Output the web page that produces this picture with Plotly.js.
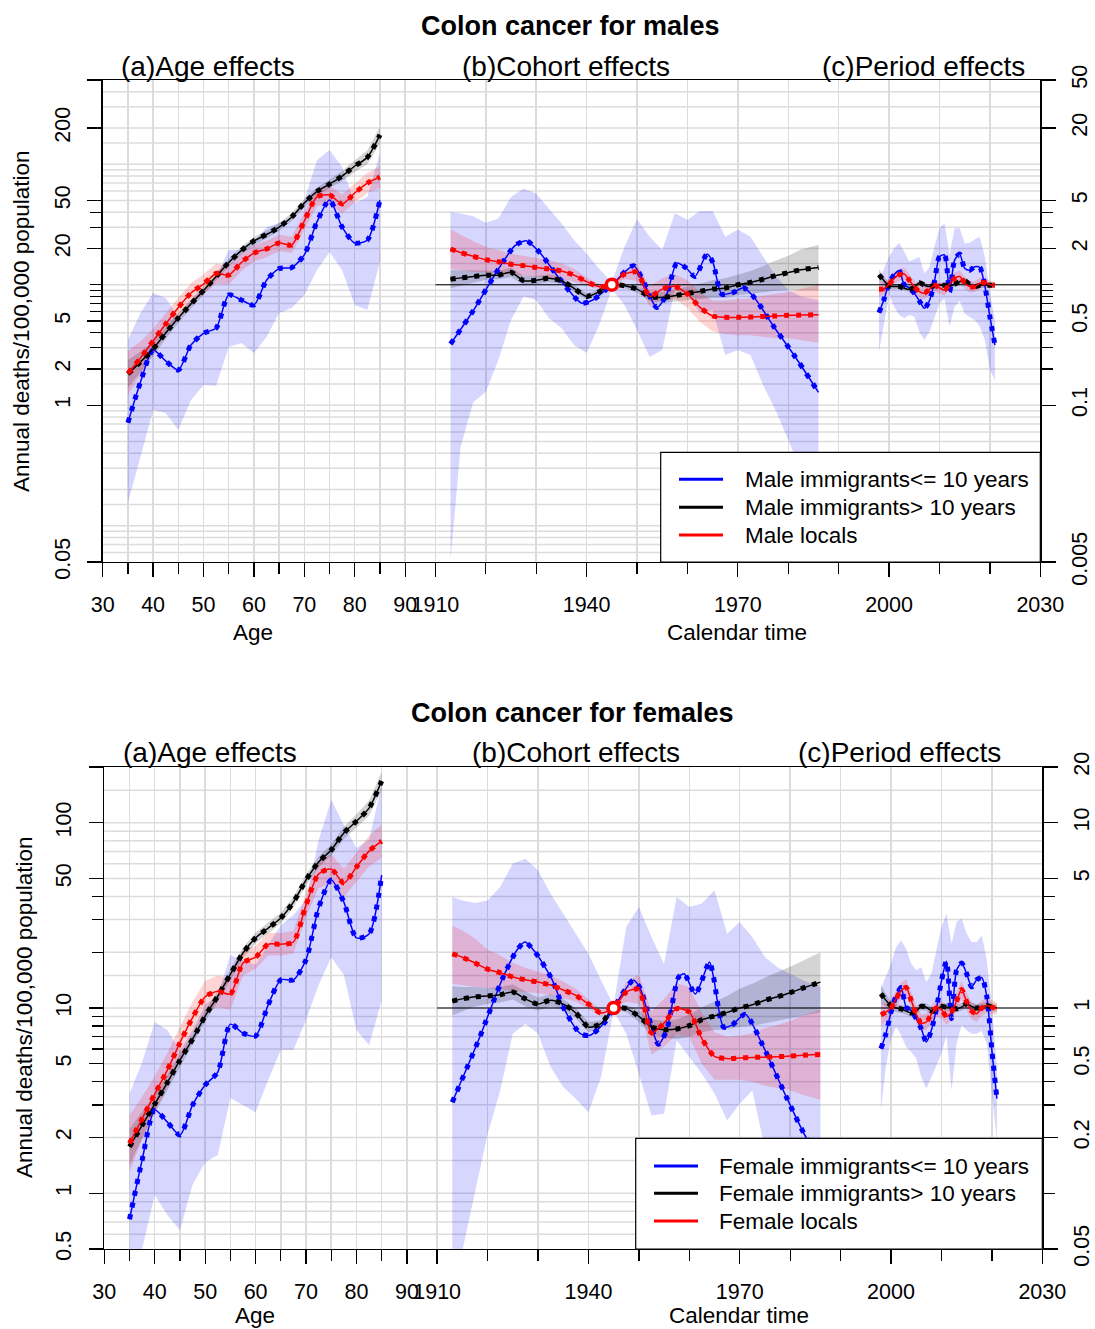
<!DOCTYPE html>
<html><head><meta charset="utf-8">
<script src="https://cdn.plot.ly/plotly-3.0.1.min.js"></script>
<style>html,body{margin:0;padding:0;background:#fff}#chart{width:1095px;height:1329px}</style>
</head><body><div id="chart"></div>
<script>
// ---------------- DATA ----------------
const groupsMale = ['Male immigrants<= 10 years','Male immigrants> 10 years','Male locals'];
const groupsFemale = ['Female immigrants<= 10 years','Female immigrants> 10 years','Female locals'];

const ages = [35,37.5,40,42.5,45,47.5,50,52.5,55,57.5,60,62.5,65,67.5,70,72.5,75,77.5,80,82.5,85];
const cohYears = [1913,1915,1917.5,1920,1922.5,1925,1927.5,1930,1932.5,1935,1937.5,1940,1942.5,1945,1947.5,1950,1952.5,1955,1957.5,1960,1962.5,1965,1967.5,1970,1972.5,1975,1977.5,1980,1982.5,1986];
const perYears = [1998,1999,2000,2001,2002,2003,2004,2005,2006,2007,2008,2009,2010,2011,2012,2013,2014,2015,2016,2017,2018,2019,2020,2021];
const refCohort = 1945;

// ---- males: age effects (rate per 100,000) ----
const mAgeBlue   = [0.716,1.56,2.87,2.33,1.96,3.16,3.95,4.37,8.22,7.47,6.79,10.9,13.6,13.9,17.7,33.2,50.5,30.1,22.2,23.5,50.5];
const mAgeBlueLo = [0.155,0.372,0.912,0.863,0.622,1.10,1.47,1.45,3.04,3.28,2.71,3.68,5.82,6.41,8.22,13.2,18.7,13.2,6.79,6.17,15.5];
const mAgeBlueHi = [3.47,5.82,8.53,7.76,5.40,7.47,9.04,11.6,19.4,19.4,22.6,30.1,32.5,36.5,50.5,108,131,94.8,47.6,53.5,124];
const mAgeBlack   = [1.82,2.29,2.93,3.98,5.30,6.92,8.96,11.7,15.3,19.2,23.1,26.1,30.1,36.5,47.7,59.4,68.5,79.8,96.7,114,175];
const mAgeBlackLo = [1.40,1.88,2.55,3.55,4.82,6.35,8.30,10.8,14.2,17.8,21.4,24.2,27.9,33.8,44.2,55.0,62.8,72.5,86.3,100,148];
const mAgeBlackHi = [2.37,2.79,3.37,4.46,5.83,7.54,9.68,12.6,16.5,20.7,24.9,28.2,32.5,39.4,51.5,64.2,74.7,87.8,108,130,206];
const mAgeRed   = [1.84,2.47,3.41,4.72,6.47,8.53,10.1,12.4,12.0,15.3,18.3,19.8,22.2,21.4,33.8,53.5,55.6,46.8,57.7,69.8,78.3];
const mAgeRedLo = [1.21,1.80,2.71,3.85,5.35,7.05,8.35,10.2,10.0,13.0,15.6,16.9,19.0,18.3,28.9,45.0,46.7,39.0,48.1,57.7,63.7];
const mAgeRedHi = [2.80,3.39,4.29,5.79,7.83,10.3,12.2,15.0,14.4,18.1,21.4,23.2,26.0,25.0,39.5,63.6,66.2,56.2,69.2,84.5,96.3];

// ---- males: cohort effects (rate ratio) ----
const mCohBlueYears = [1913.0,1917.5,1922.5,1925.8,1928.0,1930.7,1934.7,1939.0,1941.3,1945.0,1949.3,1950.9,1953.9,1955.9,1957.9,1959.8,1961.5,1963.9,1965.1,1966.8,1969.1,1971.1,1973.4,1977.0,1981.0,1986.0];
const mCohBlue = [0.322,0.608,1.35,2.11,2.32,1.85,1.11,0.705,0.751,1.0,1.44,1.15,0.648,0.837,1.51,1.37,1.17,1.80,1.51,0.837,0.864,0.944,0.77,0.457,0.266,0.128];
const mCohBlueLo = [0.0052,0.045,0.106,0.129,0.237,0.51,0.80,0.746,0.53,0.438,0.316,0.271,0.463,0.92,0.68,0.42,0.251,0.287,0.91,0.838,0.582,0.617,0.261,0.287,0.261,0.147,0.091,0.051,0.029,0.0135];
const mCohBlueHi = [4.0,3.9,3.7,3.27,3.55,5.35,6.3,5.7,4.3,3.23,2.35,1.82,1.35,1.05,2.06,3.5,2.5,1.94,3.92,3.44,4.1,4.1,2.5,2.87,2.5,1.71,1.18,0.91,0.80,0.746];
const mCohBlack   = [1.11,1.14,1.17,1.20,1.20,1.27,1.08,1.09,1.13,1.08,0.932,0.80,0.875,1.0,0.98,0.92,0.80,0.785,0.811,0.847,0.88,0.92,0.938,1.0,1.046,1.11,1.19,1.26,1.33,1.39];
const mCohBlackLo = [0.93,0.98,1.04,1.10,1.11,1.16,0.99,1.01,1.05,1.01,0.87,0.755,0.845,0.99,0.94,0.86,0.73,0.71,0.72,0.74,0.76,0.78,0.78,0.82,0.84,0.86,0.89,0.91,0.90,0.90];
const mCohBlackHi = [1.32,1.32,1.31,1.31,1.30,1.39,1.18,1.18,1.22,1.16,1.0,0.85,0.905,1.01,1.02,0.98,0.88,0.87,0.91,0.97,1.02,1.09,1.13,1.22,1.30,1.43,1.59,1.74,1.96,2.15];
const mCohRed   = [1.98,1.85,1.72,1.61,1.55,1.48,1.44,1.39,1.35,1.30,1.20,1.06,0.963,1.0,1.22,1.27,0.80,0.92,0.968,0.837,0.648,0.55,0.536,0.536,0.539,0.546,0.55,0.557,0.56,0.564];
const mCohRedLo = [1.35,1.32,1.28,1.26,1.24,1.21,1.19,1.16,1.14,1.13,1.06,0.98,0.92,0.99,1.11,1.08,0.66,0.75,0.76,0.64,0.49,0.41,0.39,0.38,0.38,0.37,0.36,0.36,0.35,0.33];
const mCohRedHi = [2.90,2.60,2.31,2.06,1.94,1.81,1.74,1.67,1.60,1.50,1.36,1.15,1.01,1.01,1.34,1.49,0.97,1.13,1.23,1.09,0.86,0.74,0.74,0.76,0.77,0.81,0.84,0.87,0.92,1.0];

// ---- males: period effects (rate ratio) ----
const mPerBlue   = [0.586,0.757,1.03,1.21,1.31,1.0,0.94,0.85,0.736,0.637,0.736,1.06,1.71,1.77,0.875,1.60,1.80,1.37,1.32,1.41,1.39,0.975,0.543,0.316];
const mPerBlueLo = [0.278,0.479,0.82,0.656,0.56,0.526,0.56,0.543,0.407,0.348,0.407,0.543,0.70,0.77,0.449,0.656,0.736,0.578,0.536,0.51,0.449,0.348,0.196,0.162];
const mPerBlueHi = [1.09,1.37,1.71,2.00,2.23,1.88,1.56,1.63,1.71,1.24,1.39,2.07,2.94,3.24,1.77,2.94,2.94,2.20,2.23,2.38,2.50,1.71,0.85,0.51];
const mPerBlack   = [1.21,1.08,0.98,0.965,0.965,0.935,0.915,0.95,1.04,0.99,0.965,0.98,0.99,0.99,0.98,1.01,1.06,1.08,1.01,0.965,0.99,1.0,0.99,0.99];
const mPerBlackLo = [1.08,1.00,0.92,0.915,0.92,0.89,0.87,0.905,0.99,0.945,0.92,0.935,0.945,0.945,0.935,0.965,1.01,1.03,0.965,0.92,0.945,0.955,0.945,0.945];
const mPerBlackHi = [1.36,1.17,1.04,1.02,1.01,0.98,0.96,1.0,1.09,1.04,1.01,1.03,1.04,1.04,1.03,1.06,1.11,1.13,1.06,1.01,1.04,1.05,1.04,1.04];
const mPerRed   = [0.916,0.927,1.01,1.13,1.21,1.23,1.09,0.964,0.875,0.85,0.916,0.99,0.94,0.904,1.01,1.13,1.17,1.04,0.964,0.964,1.03,1.04,1.0,0.99];
const mPerRedLo = [0.80,0.83,0.90,1.01,1.08,1.10,0.97,0.86,0.78,0.76,0.82,0.88,0.84,0.81,0.90,1.01,1.05,0.93,0.86,0.87,0.93,0.95,0.93,0.93];
const mPerRedHi = [1.05,1.04,1.13,1.27,1.36,1.38,1.22,1.08,0.98,0.95,1.02,1.11,1.05,1.01,1.13,1.27,1.31,1.16,1.08,1.07,1.14,1.14,1.08,1.06];

// ---- females: age effects ----
const fAgeBlue   = [0.723,1.51,2.81,2.42,2.06,2.99,3.84,4.51,8.18,7.32,7.06,10.4,14.2,14.2,18.2,34.7,49.1,37.3,23.9,25.1,52.2];
const fAgeBlueLo = [0.4,0.5,0.977,0.762,0.632,1.11,1.47,1.61,3.27,2.99,2.74,4.08,5.93,5.93,8.61,13.3,18.8,15.1,7.6,6.3,11.0];
const fAgeBlueHi = [3.46,5.1,8.4,7.6,5.9,7.6,10.4,11.7,19.3,18.2,17.1,21.9,28.0,31.8,38.3,80.7,133,97.2,73.1,80.7,160];
const fAgeBlack   = [1.78,2.33,3.03,3.96,5.23,6.79,9.05,11.6,15.2,19.8,23.9,27.0,30.6,37.3,49.1,61.4,71.3,88.1,102,120,168];
const fAgeBlackLo = [1.42,1.98,2.70,3.60,4.85,6.35,8.46,10.8,14.2,18.5,22.3,25.2,28.6,34.9,45.9,57.4,66.6,81.6,94,109,150];
const fAgeBlackHi = [2.23,2.74,3.39,4.36,5.64,7.26,9.68,12.4,16.3,21.2,25.6,28.9,32.7,39.9,52.5,65.7,76.3,95.1,111,132,188];
const fAgeRed   = [1.86,2.53,3.43,4.62,6.49,8.87,11.5,12.3,11.9,17.5,18.8,22.1,22.1,22.7,36.0,52.9,56.2,47.3,57.7,70.3,79.6];
const fAgeRedLo = [1.31,1.93,2.74,3.74,5.32,7.27,9.43,10.1,9.75,15.0,16.3,19.2,19.2,19.7,31.0,44.5,46.8,39.7,48.1,58.1,64.7];
const fAgeRedHi = [2.64,3.32,4.29,5.71,7.92,10.8,14.0,15.0,14.5,20.4,21.6,25.4,25.4,26.1,41.8,62.9,67.4,56.3,69.2,85.1,97.9];

// ---- females: cohort effects ----
const fCohBlueYears = [1913.0,1918.2,1923.1,1925.8,1927.4,1929.4,1932.7,1935.0,1938.4,1940.3,1943.3,1945.0,1948.9,1950.3,1952.9,1953.9,1955.5,1957.9,1959.0,1961.2,1964.0,1964.8,1966.8,1968.4,1971.1,1974.4,1979.4,1983.3,1986.0];
const fCohBlue = [0.31,0.669,1.47,2.05,2.27,2.01,1.44,1.01,0.727,0.712,0.84,1.0,1.41,1.27,0.727,0.637,0.757,1.47,1.53,1.19,1.77,1.47,0.789,0.806,0.924,0.642,0.324,0.197,0.157];
const fCohBlueLo = [0.037,0.049,0.0998,0.208,0.359,0.727,0.823,0.727,0.48,0.374,0.324,0.274,0.424,0.963,0.727,0.442,0.263,0.269,0.669,0.544,0.442,0.345,0.247,0.304,0.359,0.177,0.084,0.045,0.030,0.024];
const fCohBlueHi = [3.98,3.81,3.69,3.81,4.50,6.02,6.40,5.54,4.14,3.23,2.52,1.96,1.41,1.03,2.74,3.51,2.42,1.73,3.98,3.51,3.66,4.32,2.52,2.91,2.42,1.88,1.66,1.53,1.41,1.30];
const fCohBlack   = [1.09,1.12,1.15,1.16,1.18,1.22,1.12,1.05,1.10,1.05,0.94,0.79,0.823,1.0,0.992,0.902,0.79,0.764,0.77,0.803,0.865,0.905,0.947,1.0,1.04,1.10,1.15,1.21,1.28,1.38];
const fCohBlackLo = [0.91,0.96,1.02,1.05,1.07,1.11,1.02,0.97,1.02,0.98,0.88,0.74,0.79,0.99,0.95,0.84,0.72,0.69,0.68,0.70,0.74,0.76,0.77,0.79,0.80,0.83,0.85,0.88,0.91,0.95];
const fCohBlackHi = [1.31,1.30,1.30,1.28,1.30,1.34,1.23,1.14,1.19,1.12,1.00,0.84,0.86,1.01,1.04,0.97,0.87,0.85,0.87,0.92,1.01,1.08,1.16,1.27,1.35,1.46,1.56,1.67,1.80,2.0];
const fCohRed   = [1.96,1.88,1.75,1.62,1.55,1.47,1.42,1.38,1.33,1.25,1.17,1.05,0.94,1.0,1.22,1.26,0.733,0.83,0.992,0.951,0.683,0.548,0.533,0.537,0.541,0.543,0.546,0.550,0.555,0.562];
const fCohRedLo = [1.35,1.33,1.30,1.28,1.27,1.25,1.22,1.20,1.18,1.13,1.08,0.99,0.90,0.99,1.08,1.05,0.56,0.62,0.72,0.70,0.50,0.41,0.41,0.41,0.40,0.38,0.37,0.36,0.34,0.32];
const fCohRedHi = [2.79,2.62,2.37,2.07,1.92,1.75,1.65,1.58,1.50,1.39,1.27,1.11,0.98,1.01,1.38,1.52,0.96,1.12,1.36,1.30,0.94,0.74,0.70,0.71,0.73,0.78,0.81,0.85,0.91,0.98];

// ---- females: period effects ----
const fPerBlue   = [0.603,0.727,0.951,1.16,1.29,1.01,0.971,0.876,0.773,0.655,0.758,0.992,1.40,1.79,0.876,1.60,1.75,1.53,1.30,1.42,1.46,1.15,0.591,0.324];
const fPerBlueLo = [0.28,0.49,0.683,0.79,0.712,0.616,0.579,0.533,0.424,0.367,0.424,0.49,0.567,0.712,0.359,0.642,0.806,0.758,0.727,0.727,0.751,0.642,0.345,0.193];
const fPerBlueHi = [1.27,1.47,1.74,2.13,2.32,2.09,1.74,1.60,1.66,1.38,1.53,2.05,2.74,3.23,2.22,2.91,3.04,2.52,2.27,2.27,2.47,1.81,1.01,0.48];
const fPerBlack   = [1.195,1.10,1.03,1.0,0.988,0.963,0.94,0.963,1.02,1.01,0.963,0.98,1.02,1.01,1.0,0.99,1.01,1.055,1.02,1.0,1.01,1.03,1.01,1.0];
const fPerBlackLo = [1.07,1.02,0.97,0.95,0.94,0.92,0.90,0.92,0.975,0.965,0.92,0.94,0.975,0.965,0.955,0.945,0.965,1.01,0.975,0.955,0.965,0.98,0.96,0.95];
const fPerBlackHi = [1.33,1.19,1.09,1.05,1.04,1.01,0.98,1.01,1.07,1.06,1.01,1.02,1.07,1.06,1.05,1.04,1.06,1.10,1.07,1.05,1.06,1.08,1.06,1.05];
const fPerRed   = [0.92,0.951,1.0,1.12,1.235,1.29,1.10,0.924,0.83,0.84,0.924,1.0,0.98,0.90,0.951,1.09,1.26,1.08,0.963,0.932,1.0,1.03,1.01,0.99];
const fPerRedLo = [0.80,0.85,0.90,1.01,1.11,1.16,0.99,0.83,0.75,0.76,0.83,0.90,0.88,0.81,0.86,0.98,1.13,0.97,0.87,0.84,0.91,0.94,0.93,0.92];
const fPerRedHi = [1.06,1.06,1.11,1.24,1.37,1.43,1.22,1.03,0.92,0.93,1.03,1.11,1.09,1.0,1.05,1.21,1.40,1.20,1.07,1.03,1.10,1.13,1.10,1.07];

// ---- axis ticks ----
const ageTicks = [30,40,50,60,70,80,90];
const ageMinorTicks = [35,45,55,65,75,85];
const calTicks = [1910,1940,1970,2000,2030];
const calMinorTicks = [1920,1930,1950,1960,1980,1990,2010,2020];
const mLeftTicks = [0.05,1,2,5,20,50,200,500];
const mLeftText  = ['0.05','1','2','5','20','50','200',''];
const mLeftMinor = [3,4,6,7,8,9,10,30,40];
const mRightTicks = [0.005,0.1,0.5,2,5,20,50];
const mRightText  = ['0.005','0.1','0.5','2','5','20','50'];
const mRightMinor = [0.2,0.3,0.4,0.6,0.7,0.8,0.9,1,3,4];
const fLeftTicks = [0.5,1,2,5,10,50,100,200];
const fLeftText  = ['0.5','1','2','5','10','50','100',''];
const fLeftMinor = [3,4,6,7,8,9,20,30,40];
const fRightTicks = [0.05,0.2,0.5,1,5,10,20];
const fRightText  = ['0.05','0.2','0.5','1','5','10','20'];
const fRightMinor = [0.1,0.3,0.4,0.6,0.7,0.8,0.9,2,3,4];
const gridMantissa = [1,1.5,2,3,4,5,6,7,8,9];

// ---------------- BUILD ----------------
const W = 1095, H = 1329;
const FONT = 'Liberation Sans, Arial, Helvetica, sans-serif';
const GAP = 6;
const cal = y => y - 1910 + 90 + GAP;
const XR = [30, cal(2030)];
const COL = {blue:'#0000ff', black:'#000000', red:'#ff0000'};
const FILL = {blue:'rgba(0,0,255,0.16)', black:'rgba(0,0,0,0.17)', red:'rgba(255,0,0,0.17)'};
const GRID = '#dcdcdc';

function band(xs, lo, hi, fill, xa, ya){
  return {type:'scatter', mode:'lines', x: xs.concat(xs.slice().reverse()), y: hi.concat(lo.slice().reverse()),
    fill:'toself', fillcolor: fill, line:{width:0, color:'rgba(0,0,0,0)'}, xaxis:xa, yaxis:ya, hoverinfo:'skip', showlegend:false};
}
function curve(xs, ys, color, xa, ya){
  return [
    {type:'scatter', mode:'lines', x:xs, y:ys, line:{color:color, width:1.5, shape:'spline', smoothing:0.7}, xaxis:xa, yaxis:ya, showlegend:false},
    {type:'scatter', mode:'lines', x:xs, y:ys, line:{color:color, width:5, shape:'spline', smoothing:0.7, dash:'5px,7px'}, xaxis:xa, yaxis:ya, showlegend:false}
  ];
}

function panel(D, xa, yL, yR){
  const t = [];
  const coh = cohYears.map(cal), per = perYears.map(cal), cohB = D.cohBlueYears.map(cal);
  t.push(band(ages, D.ageBlueLo, D.ageBlueHi, FILL.blue, xa, yL));
  t.push(band(ages, D.ageBlackLo, D.ageBlackHi, FILL.black, xa, yL));
  t.push(band(ages, D.ageRedLo, D.ageRedHi, FILL.red, xa, yL));
  t.push(band(coh, D.cohBlueLo, D.cohBlueHi, FILL.blue, xa, yR));
  t.push(band(coh, D.cohBlackLo, D.cohBlackHi, FILL.black, xa, yR));
  t.push(band(coh, D.cohRedLo, D.cohRedHi, FILL.red, xa, yR));
  t.push(band(per, D.perBlueLo, D.perBlueHi, FILL.blue, xa, yR));
  t.push(band(per, D.perBlackLo, D.perBlackHi, FILL.black, xa, yR));
  t.push(band(per, D.perRedLo, D.perRedHi, FILL.red, xa, yR));
  t.push({type:'scatter', mode:'lines', x:[cal(1910), cal(2030)], y:[1,1], line:{color:'#000', width:1.2}, xaxis:xa, yaxis:yR, showlegend:false});
  t.push(...curve(ages, D.ageBlue, COL.blue, xa, yL));
  t.push(...curve(ages, D.ageBlack, COL.black, xa, yL));
  t.push(...curve(ages, D.ageRed, COL.red, xa, yL));
  t.push(...curve(cohB, D.cohBlue, COL.blue, xa, yR));
  t.push(...curve(coh, D.cohBlack, COL.black, xa, yR));
  t.push(...curve(coh, D.cohRed, COL.red, xa, yR));
  t.push(...curve(per, D.perBlue, COL.blue, xa, yR));
  t.push(...curve(per, D.perBlack, COL.black, xa, yR));
  t.push(...curve(per, D.perRed, COL.red, xa, yR));
  t.push({type:'scatter', mode:'markers', x:[cal(refCohort)], y:[1], marker:{symbol:'circle', size:11, color:'#fff', line:{color:COL.red, width:3.5}}, xaxis:xa, yaxis:yR, showlegend:false});
  return t;
}

const male = {ageBlue:mAgeBlue, ageBlueLo:mAgeBlueLo, ageBlueHi:mAgeBlueHi, ageBlack:mAgeBlack, ageBlackLo:mAgeBlackLo, ageBlackHi:mAgeBlackHi,
  ageRed:mAgeRed, ageRedLo:mAgeRedLo, ageRedHi:mAgeRedHi, cohBlueYears:mCohBlueYears, cohBlue:mCohBlue, cohBlueLo:mCohBlueLo, cohBlueHi:mCohBlueHi,
  cohBlack:mCohBlack, cohBlackLo:mCohBlackLo, cohBlackHi:mCohBlackHi, cohRed:mCohRed, cohRedLo:mCohRedLo, cohRedHi:mCohRedHi,
  perBlue:mPerBlue, perBlueLo:mPerBlueLo, perBlueHi:mPerBlueHi, perBlack:mPerBlack, perBlackLo:mPerBlackLo, perBlackHi:mPerBlackHi,
  perRed:mPerRed, perRedLo:mPerRedLo, perRedHi:mPerRedHi};
const female = {ageBlue:fAgeBlue, ageBlueLo:fAgeBlueLo, ageBlueHi:fAgeBlueHi, ageBlack:fAgeBlack, ageBlackLo:fAgeBlackLo, ageBlackHi:fAgeBlackHi,
  ageRed:fAgeRed, ageRedLo:fAgeRedLo, ageRedHi:fAgeRedHi, cohBlueYears:fCohBlueYears, cohBlue:fCohBlue, cohBlueLo:fCohBlueLo, cohBlueHi:fCohBlueHi,
  cohBlack:fCohBlack, cohBlackLo:fCohBlackLo, cohBlackHi:fCohBlackHi, cohRed:fCohRed, cohRedLo:fCohRedLo, cohRedHi:fCohRedHi,
  perBlue:fPerBlue, perBlueLo:fPerBlueLo, perBlueHi:fPerBlueHi, perBlack:fPerBlack, perBlackLo:fPerBlackLo, perBlackHi:fPerBlackHi,
  perRed:fPerRed, perRedLo:fPerRedLo, perRedHi:fPerRedHi};

const traces = [].concat(panel(male, 'x', 'y', 'y3'), panel(female, 'x2', 'y2', 'y4'));

// ---- layout ----
const TICKFONT = {family:FONT, size:21.5, color:'#000'};
const xMajor = ageTicks.concat(calTicks.map(cal));
const xMajorText = ageTicks.map(String).concat(calTicks.map(String));
const xMinor = ageMinorTicks.concat(calMinorTicks.map(cal));
function gridVals(lo, hi){
  const v = [];
  for (let k = -3; k <= 3; k++) gridMantissa.forEach(m => { const g = m * Math.pow(10, k); if (g > lo*1.001 && g < hi*0.999) v.push(g); });
  return v;
}
function xAx(l, r, anchor){
  return {domain:[l/W, r/W], anchor:anchor, range:XR, showline:true, mirror:true, linecolor:'#000', linewidth:1.3, zeroline:false,
    ticks:'outside', ticklen:14, tickwidth:1.3, tickcolor:'#000', tickmode:'array', tickvals:xMajor, ticktext:xMajorText,
    tickangle:0, tickfont:TICKFONT, ticklabelstandoff:9, showgrid:true, gridcolor:GRID, gridwidth:1.5,
    minor:{tickmode:'array', tickvals:xMinor, ticks:'outside', ticklen:11, tickwidth:1.3, tickcolor:'#000', showgrid:true, gridcolor:GRID, gridwidth:1.5}};
}
function yAx(o){
  return Object.assign({type:'log', showline:true, linecolor:'#000', linewidth:1.3, zeroline:false, showgrid:false,
    ticks:'outside', ticklen:14, tickwidth:1.3, tickcolor:'#000', tickmode:'array', tickfont:TICKFONT, tickangle:-90, ticklabelstandoff:9}, o);
}
function minorY(vals){ return {tickmode:'array', tickvals:vals, ticks:'outside', ticklen:11, tickwidth:1.3, tickcolor:'#000', showgrid:false}; }

const topY = [1 - 562/H, 1 - 80/H], botY = [1 - 1249/H, 1 - 767/H];

const P = (x, y) => ({x: x/W, y: 1 - y/H});
function ann(text, x, y, o){
  const p = P(x, y);
  return Object.assign({text:text, x:p.x, y:p.y, xref:'paper', yref:'paper', showarrow:false, xanchor:'center', yanchor:'middle',
    font:{family:FONT, size:22.5, color:'#000'}}, o || {});
}
const annotations = [
  ann('<b>Colon cancer for males</b>', 570, 26, {font:{family:FONT, size:27, color:'#000'}}),
  ann('(a)Age effects', 208, 66, {font:{family:FONT, size:28, color:'#000'}}),
  ann('(b)Cohort effects', 566, 66, {font:{family:FONT, size:28, color:'#000'}}),
  ann('(c)Period effects', 923, 66, {font:{family:FONT, size:28, color:'#000'}}),
  ann('Age', 253, 632),
  ann('Calendar time', 737, 632),
  ann('Annual deaths/100,000 population', 22, 321, {textangle:-90}),
  ann('<b>Colon cancer for females</b>', 572, 713, {font:{family:FONT, size:27, color:'#000'}}),
  ann('(a)Age effects', 210, 752, {font:{family:FONT, size:28, color:'#000'}}),
  ann('(b)Cohort effects', 576, 752, {font:{family:FONT, size:28, color:'#000'}}),
  ann('(c)Period effects', 899, 752, {font:{family:FONT, size:28, color:'#000'}}),
  ann('Age', 255, 1315),
  ann('Calendar time', 739, 1315),
  ann('Annual deaths/100,000 population', 24, 1007, {textangle:-90})
];

// horizontal grid lines (drawn below the data, in data units of each left axis)
const shapes = [];
gridVals(0.05, 500).forEach(g => shapes.push({type:'line', xref:'x domain', yref:'y', x0:0, x1:1, y0:g, y1:g, line:{color:GRID, width:1.5}, layer:'below'}));
gridVals(0.5, 200).forEach(g => shapes.push({type:'line', xref:'x2 domain', yref:'y2', x0:0, x1:1, y0:g, y1:g, line:{color:GRID, width:1.5}, layer:'below'}));

function legend(names, box, lineX, textX, rows){
  const a = P(box[0], box[1]), b = P(box[2], box[3]);
  shapes.push({type:'rect', xref:'paper', yref:'paper', x0:a.x, y0:b.y, x1:b.x, y1:a.y, fillcolor:'#fff', line:{color:'#000', width:1.2}, layer:'above'});
  const cols = [COL.blue, COL.black, COL.red];
  names.forEach((n, i) => {
    const l0 = P(lineX[0], rows[i]), l1 = P(lineX[1], rows[i]);
    shapes.push({type:'line', xref:'paper', yref:'paper', x0:l0.x, y0:l0.y, x1:l1.x, y1:l1.y, line:{color:cols[i], width:3}, layer:'above'});
    annotations.push(ann(n, textX, rows[i], {xanchor:'left'}));
  });
}
legend(groupsMale, [660.7, 452.3, 1040.3, 562], [679, 723], 742.7, [479.3, 507.3, 535]);
legend(groupsFemale, [635.7, 1138.3, 1042.3, 1249], [654, 698], 717.3, [1166, 1193.3, 1221]);

const layout = {
  width:W, height:H, margin:{l:0, r:0, t:0, b:0}, paper_bgcolor:'#fff', plot_bgcolor:'rgba(0,0,0,0)',
  showlegend:false, hovermode:false, font:{family:FONT, color:'#000'},
  xaxis: xAx(102.7, 1040.3, 'y'),
  xaxis2: xAx(104.3, 1042.3, 'y2'),
  yaxis: yAx({domain:topY, anchor:'x', range:[Math.log10(0.05), Math.log10(500)], tickvals:mLeftTicks, ticktext:mLeftText, minor:minorY(mLeftMinor)}),
  yaxis3: yAx({overlaying:'y', anchor:'x', side:'right', range:[Math.log10(0.005), Math.log10(50)], tickvals:mRightTicks, ticktext:mRightText, minor:minorY(mRightMinor), ticklabelstandoff:6}),
  yaxis2: yAx({domain:botY, anchor:'x2', range:[Math.log10(0.5), Math.log10(200)], tickvals:fLeftTicks, ticktext:fLeftText, minor:minorY(fLeftMinor)}),
  yaxis4: yAx({overlaying:'y2', anchor:'x2', side:'right', range:[Math.log10(0.05), Math.log10(20)], tickvals:fRightTicks, ticktext:fRightText, minor:minorY(fRightMinor), ticklabelstandoff:6}),
  annotations: annotations, shapes: shapes
};

Plotly.newPlot('chart', traces, layout, {staticPlot:true, displayModeBar:false});
</script></body></html>
